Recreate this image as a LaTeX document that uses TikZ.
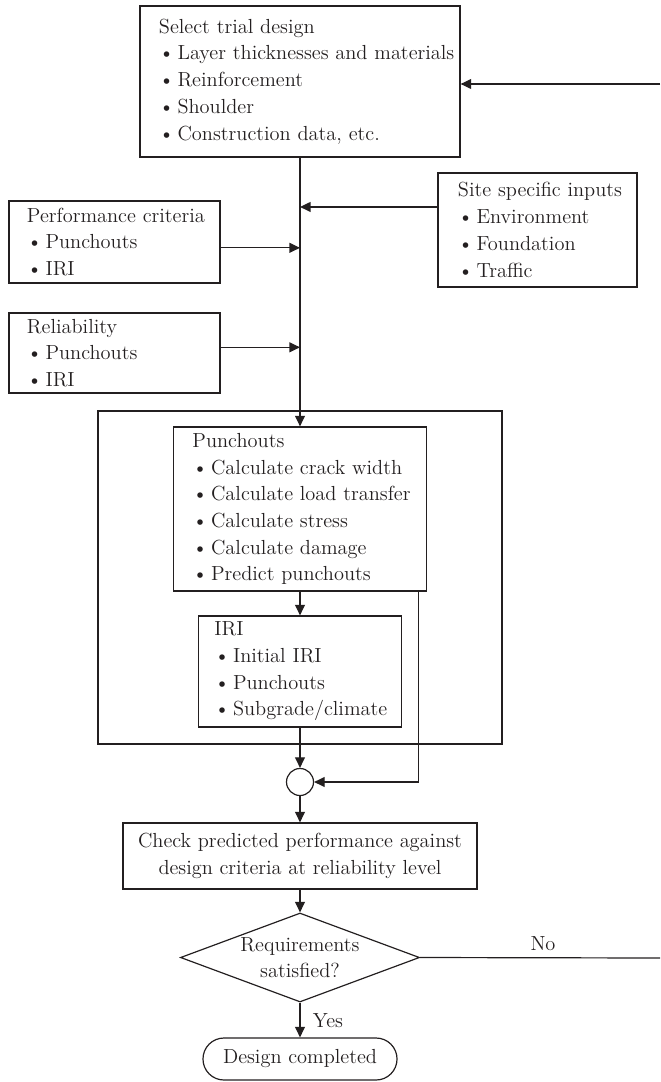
\documentclass[tikz,border=0pt]{standalone}
\usepackage{xcolor}
\usepackage{tikz}
\usetikzlibrary{arrows.meta,shapes.geometric,calc}
\definecolor{Ink}{HTML}{231F20}
\newcommand{\itm}[1]{\mbox{\textbullet\hspace{0.15em}#1}}

\begin{document}
\begin{tikzpicture}[
  x=0.025cm, y=-0.025cm,
  every node/.style={font=\fontsize{14.5}{19}\selectfont, text=Ink},
  blk/.style={rectangle, draw=Ink, line width=0.85pt, align=left, inner sep=0pt, text width=#1},
  ctr/.style={rectangle, draw=Ink, line width=0.85pt, align=center, inner sep=2pt},
  dec/.style={diamond, draw=Ink, line width=0.85pt, align=center, aspect=2.69, inner sep=0pt},
  term/.style={rectangle, rounded corners=0.525cm, draw=Ink, line width=0.85pt, inner sep=2pt},
  jn/.style={circle, draw=Ink, line width=0.85pt, minimum size=0.675cm, inner sep=0pt},
  arr/.style={-{Triangle[length=7.5pt,width=7pt]}, line width=0.85pt, draw=Ink},
  ln/.style={line width=0.85pt, draw=Ink},
]
\useasboundingbox (0,0) rectangle (660,1082);

%% ─ Inputs ───────────────────────────────────────────────────────────────────
\node[blk=7.05cm, minimum width=8cm, minimum height=3.775cm] (trial) at (300,81.5)
  {\mbox{Select trial design}\\\itm{Layer thicknesses and materials}\\\itm{Reinforcement}\\\itm{Shoulder}\\\itm{Construction data, etc.}};
\node[blk=3.975cm, minimum width=4.975cm, minimum height=2.85cm] (site) at (537.5,230)
  {\mbox{Site specific inputs}\\\itm{Environment}\\\itm{Foundation}\\\itm{Traffic}};
\node[blk=4.375cm, minimum width=5.275cm, minimum height=2.05cm] (perf) at (114.5,242)
  {\mbox{Performance criteria}\\\itm{Punchouts}\\\itm{IRI}};
\node[blk=4.375cm, minimum width=5.275cm, minimum height=2.0cm] (rel) at (114.5,353)
  {\mbox{Reliability}\\\itm{Punchouts}\\\itm{IRI}};

%% ─ Distress models ──────────────────────────────────────────────────────────
\node[rectangle, draw=Ink, line width=0.85pt, minimum width=10.1cm, minimum height=8.325cm] (model) at (300,577.5) {};
\node[blk=5.375cm, minimum width=6.325cm, minimum height=4.1cm] (punch) at (300,509)
  {\mbox{Punchouts}\\\itm{Calculate crack width}\\\itm{Calculate load transfer}\\\itm{Calculate stress}\\\itm{Calculate damage}\\\itm{Predict punchouts}};
\node[blk=4.275cm, minimum width=5.075cm, minimum height=2.775cm] (iri) at (300,671.5)
  {\mbox{IRI}\\\itm{Initial IRI}\\\itm{Punchouts}\\\itm{Subgrade/climate}};

%% ─ Checks ───────────────────────────────────────────────────────────────────
\node[jn] (join) at (300,782) {};
\node[ctr, minimum width=8.85cm, minimum height=1.65cm] (check) at (300,856)
  {Check predicted performance against\\design criteria at reliability level};
\node[dec, minimum width=5.975cm, minimum height=2.225cm] (req) at (300,957.5)
  {Requirements\\satisfied?};
\node[term, minimum width=4.85cm, minimum height=1.05cm] (done) at (300,1059) {Design completed};

%% ─ Arrows: inputs into the main line ────────────────────────────────────────
\coordinate (siteOut) at ($(site.north west)!0.3!(site.south west)$);
\coordinate (perfOut) at ($(perf.north east)!0.57!(perf.south east)$);
\coordinate (relOut)  at ($(rel.north east)!0.43!(rel.south east)$);
\draw[arr] (trial.south) -- (punch.north);
\draw[arr] (siteOut) -- (siteOut -| trial.south);
\draw[arr] (perfOut) -- (perfOut -| trial.south);
\draw[arr] (relOut)  -- (relOut -| trial.south);

%% ─ Arrows: models and checks ────────────────────────────────────────────────
\draw[arr] (punch.south) -- (iri.north);
\draw[arr] (iri.south) -- (join.north);
\coordinate (retTop) at ($(punch.south east)+(-9,0)$);
\draw[arr] (retTop) |- (join.east);
\draw[arr] (join.south) -- (check.north);
\draw[arr] (check.south) -- (req.north);
\draw[arr] (req.south) -- (done.north);
\node[anchor=west] (yes) at (308,1021) {Yes};

%% ─ Feedback loop (runs off the right edge) ──────────────────────────────────
\coordinate (fbOut) at (660,958);
\coordinate (fbIn)  at (660,84);
\draw[ln] (req.east) -- (fbOut);
\node (no) at (543,944) {No};
\draw[arr] (fbIn) -- (fbIn -| trial.east);

\end{tikzpicture}
\end{document}
